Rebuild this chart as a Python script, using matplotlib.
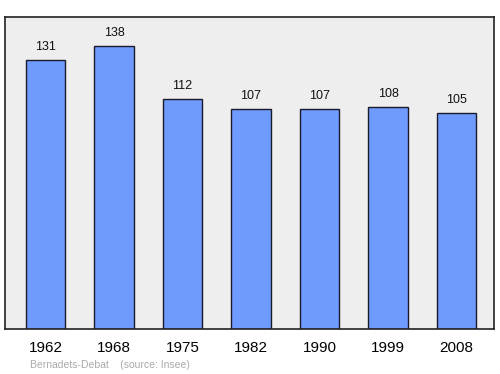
import matplotlib
matplotlib.use("Agg")
import matplotlib.pyplot as plt

# population by census year
years = ["1962", "1968", "1975", "1982", "1990", "1999", "2008"]
population = [131, 138, 112, 107, 107, 108, 105]

plt.rcParams['font.family'] = ['Liberation Sans', 'DejaVu Sans']

fig = plt.figure(figsize=(5, 3.74), dpi=100)
ax = fig.add_axes([5 / 500, (374 - 329) / 374, 489 / 500, 312 / 374])
ax.set_facecolor('#eeeeee')

x = range(len(years))
ax.bar(x, population, width=0.57, color='#6f9bff', edgecolor='#1a1a2a', linewidth=1.0)

for xi, v in zip(x, population):
    ax.annotate(str(v), (xi, v), xytext=(0, 7.2), textcoords='offset points',
                ha='center', va='baseline', fontsize=9, color='#111111')

ax.set_xlim(-0.591, 6.547)
ax.set_ylim(0, 152)
ax.set_yticks([])
ax.set_xticks(list(x))
ax.set_xticklabels(years, fontsize=11)
ax.tick_params(axis='x', length=0, pad=8.5)
for s in ax.spines.values():
    s.set_color('#222222')
    s.set_linewidth(1.2)

fig.text(30 / 500, 1 - 365 / 374, "Bernadets-Debat    (source: Insee)",
         fontsize=7.5, color='#aaaaaa', va='center', ha='left')

fig.savefig("out.png", dpi=100)
